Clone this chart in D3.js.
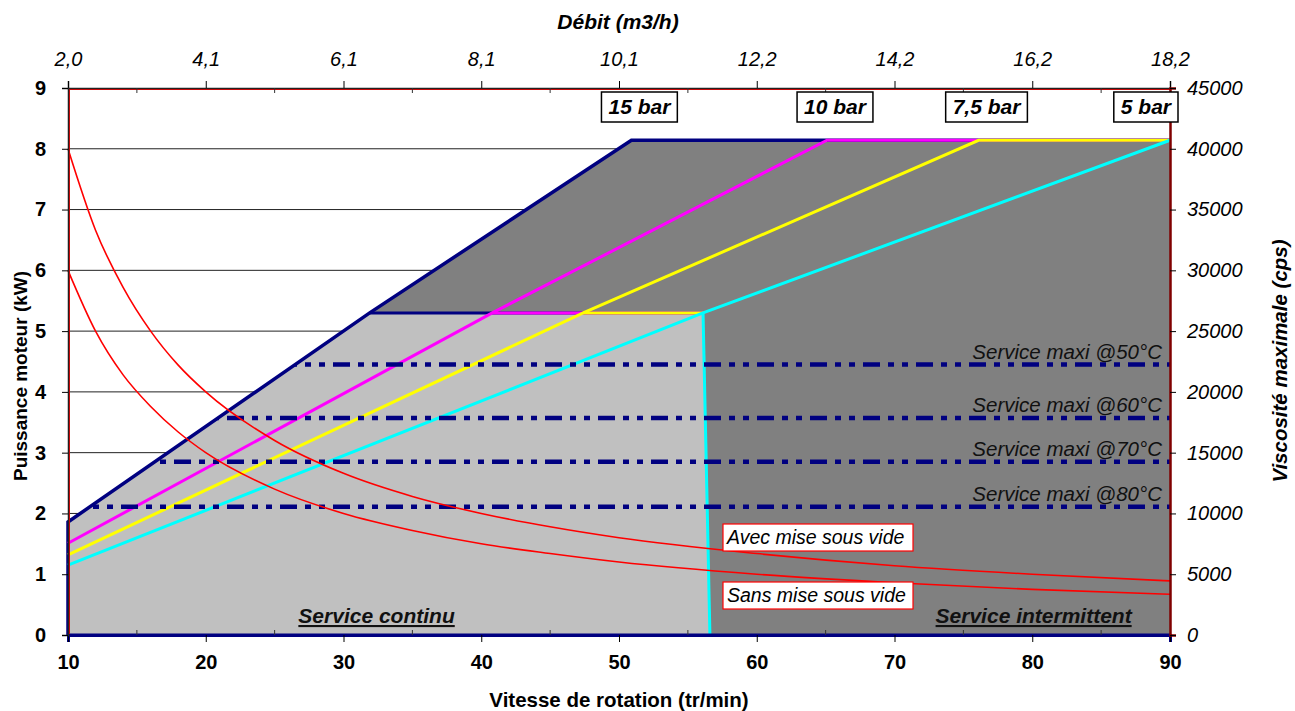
<!DOCTYPE html>
<html>
<head>
<meta charset="utf-8">
<script src="https://cdn.jsdelivr.net/npm/d3@7"></script>
<style>
  body { margin: 0; background: #fff; }
  svg { display: block; font-family: Arial, "Liberation Sans", sans-serif; }
</style>
</head>
<body>
<div id="chart"></div>
<script>
// speed (tr/min) ticks and matching flow (m3/h) labels
const speedTicks = [10, 20, 30, 40, 50, 60, 70, 80, 90];
const debitLabels = ["2,0", "4,1", "6,1", "8,1", "10,1", "12,2", "14,2", "16,2", "18,2"];
const powerTicks = [0, 1, 2, 3, 4, 5, 6, 7, 8, 9];
const viscTicks = [0, 5000, 10000, 15000, 20000, 25000, 30000, 35000, 40000, 45000];

// power curves per pressure, [speed, kW]
const pressureNames = ["15 bar", "10 bar", "7,5 bar", "5 bar"];
const pressureColors = ["#000080", "#ff00ff", "#ffff00", "#00ffff"];
const power15 = [[10, 0], [10, 1.86], [31.9, 5.30], [50.9, 8.14], [90, 8.14]];
const power10 = [[10, 1.51], [40.8, 5.30], [65.1, 8.14], [90, 8.14]];
const power75 = [[10, 1.32], [47.4, 5.30], [76.1, 8.14], [90, 8.14]];
const power5 = [[10, 1.15], [56.1, 5.30], [90, 8.14]];

// continuous duty limit
const continuousPower = 5.30;
const continuousLimit = [[56.1, 5.30], [56.6, 0]];

// max service viscosity per temperature (cps)
const serviceNames = ["Service maxi @50°C", "Service maxi @60°C", "Service maxi @70°C", "Service maxi @80°C"];
const serviceVisc = [22250, 17850, 14250, 10550];

// max viscosity curves, [speed, cps]
const viscAvec = [[10, 40000], [12, 33300], [14, 28600], [16, 25000], [18, 22200], [20, 20000], [25, 16000],
  [30, 13300], [35, 11400], [40, 10000], [45, 8900], [50, 8000], [60, 6700], [70, 5700], [80, 5000], [90, 4450]];
const viscSans = [[10, 30000], [12, 25000], [14, 21400], [16, 18800], [18, 16700], [20, 15000], [25, 12000],
  [30, 10000], [35, 8600], [40, 7500], [45, 6700], [50, 6000], [60, 5000], [70, 4300], [80, 3750], [90, 3350]];

const width = 1295, height = 711;
const margin = {top: 88, right: 125, bottom: 76, left: 68};

const svg = d3.select("#chart").append("svg")
  .attr("width", width)
  .attr("height", height);

const x = d3.scaleLinear().domain([10, 90]).range([margin.left, width - margin.right]);
const y = d3.scaleLinear().domain([0, 9]).range([height - margin.bottom, margin.top]);
const yR = d3.scaleLinear().domain([0, 45000]).range([height - margin.bottom, margin.top]);

const line = d3.line().x(d => x(d[0])).y(d => y(d[1]));

// gridlines
svg.append("g")
  .selectAll("line")
  .data(powerTicks.slice(1, -1))
  .enter()
  .append("line")
  .attr("x1", x(10)).attr("x2", x(90))
  .attr("y1", d => y(d)).attr("y2", d => y(d))
  .attr("stroke", "#222")
  .attr("stroke-width", 1);

// envelope (intermittent zone)
const envelope = power15.concat([[90, 0]]);
svg.append("path")
  .attr("d", line(envelope) + "Z")
  .attr("fill", "#808080");

// continuous zone
const continuous = [[10, 0], power15[1], power15[2], continuousLimit[0], continuousLimit[1]];
svg.append("path")
  .attr("d", line(continuous) + "Z")
  .attr("fill", "#c0c0c0");

svg.append("clipPath")
  .attr("id", "env-clip")
  .append("path")
  .attr("d", line(envelope) + "Z");

// pressure lines
const powerSeries = [power15, power10, power75, power5];
powerSeries.forEach((s, i) => {
  svg.append("path")
    .attr("d", line(s))
    .attr("fill", "none")
    .attr("stroke", pressureColors[i])
    .attr("stroke-width", i === 0 ? 3.5 : 3);
  // continuous limit part of each curve
  const crossing = s.find(p => p[1] === continuousPower);
  svg.append("path")
    .attr("d", line([crossing, continuousLimit[0]]))
    .attr("fill", "none")
    .attr("stroke", pressureColors[i])
    .attr("stroke-width", 3);
});

svg.append("path")
  .attr("d", line(continuousLimit))
  .attr("fill", "none")
  .attr("stroke", "#00ffff")
  .attr("stroke-width", 3);

// bottom edge
svg.append("line")
  .attr("x1", x(10)).attr("x2", x(90))
  .attr("y1", y(0)).attr("y2", y(0))
  .attr("stroke", "#000080")
  .attr("stroke-width", 3);

// service lines
const serviceG = svg.append("g").attr("clip-path", "url(#env-clip)");
serviceG.selectAll("line")
  .data(serviceVisc)
  .enter()
  .append("line")
  .attr("x1", x(10)).attr("x2", x(90))
  .attr("y1", d => yR(d)).attr("y2", d => yR(d))
  .attr("stroke", "#000080")
  .attr("stroke-width", 4.5)
  .attr("stroke-dasharray", "17,8,6,8,6,8");

svg.append("g")
  .selectAll("text")
  .data(serviceNames)
  .enter()
  .append("text")
  .attr("x", x(90) - 8)
  .attr("y", (d, i) => yR(serviceVisc[i]) - 6)
  .attr("text-anchor", "end")
  .attr("font-size", 20.5)
  .attr("font-style", "italic")
  .attr("fill", "#111")
  .text(d => d);

// viscosity curves
const viscLine = d3.line().x(d => x(d[0])).y(d => yR(d[1])).curve(d3.curveMonotoneX);
[viscAvec, viscSans].forEach(s => {
  svg.append("path")
    .attr("d", viscLine(s))
    .attr("fill", "none")
    .attr("stroke", "#ff0000")
    .attr("stroke-width", 1.6);
});

// plot border
svg.append("line")
  .attr("x1", x(10)).attr("x2", x(90))
  .attr("y1", y(9) + 1.5).attr("y2", y(9) + 1.5)
  .attr("stroke", "#ff0000").attr("stroke-width", 1);
svg.append("line")
  .attr("x1", x(10) + 1.5).attr("x2", x(10) + 1.5)
  .attr("y1", y(9)).attr("y2", y(0))
  .attr("stroke", "#ff0000").attr("stroke-width", 1);

// axes
const tickFont = g => g.selectAll("text").attr("font-size", 20).attr("fill", "#000");

const xAxis = svg.append("g")
  .attr("transform", `translate(0,${y(0)})`)
  .call(d3.axisBottom(x).tickValues(speedTicks).tickSize(7).tickPadding(13).tickFormat(d3.format("d")));
xAxis.call(tickFont).selectAll("text").attr("font-weight", "bold");

const xTop = svg.append("g")
  .attr("transform", `translate(0,${y(9)})`)
  .call(d3.axisTop(x).tickValues(speedTicks).tickSize(7).tickPadding(15).tickFormat((d, i) => debitLabels[i]));
xTop.call(tickFont).selectAll("text").attr("font-style", "italic");

const yAxis = svg.append("g")
  .attr("transform", `translate(${x(10)},0)`)
  .call(d3.axisLeft(y).tickValues(powerTicks).tickSize(6).tickPadding(16));
yAxis.call(tickFont).selectAll("text").attr("font-weight", "bold");

const yAxisR = svg.append("g")
  .attr("transform", `translate(${x(90)},0)`)
  .call(d3.axisRight(yR).tickValues(viscTicks).tickSize(6).tickPadding(11).tickFormat(d3.format("d")));
yAxisR.call(tickFont).selectAll("text").attr("font-style", "italic");
yAxisR.select(".domain").attr("stroke", "#800000").attr("stroke-width", 2.5);

// minor ticks (inside)
const minor = [15, 25, 35, 45, 55, 65, 75, 85];
svg.append("g").selectAll("line").data(minor).enter().append("line")
  .attr("x1", d => x(d)).attr("x2", d => x(d))
  .attr("y1", y(0)).attr("y2", y(0) - 5).attr("stroke", "#333");
svg.append("g").selectAll("line").data(minor).enter().append("line")
  .attr("x1", d => x(d)).attr("x2", d => x(d))
  .attr("y1", y(9)).attr("y2", y(9) + 5).attr("stroke", "#333");

[xAxis, xTop, yAxis].forEach(g => g.select(".domain").attr("stroke", "#222").attr("stroke-width", 1.5));
xAxis.select(".domain").attr("stroke", "#000080").attr("stroke-width", 3);

// pressure boxes
pressureNames.forEach((name, i) => {
  const s = powerSeries[i];
  const corner = s.find(p => p[1] === 8.14);
  const g = svg.append("g");
  const t = g.append("text")
    .attr("font-size", 21)
    .attr("font-weight", "bold")
    .attr("font-style", "italic")
    .attr("text-anchor", "middle")
    .text(name);
  const w = t.node().getComputedTextLength() + 14;
  let cx = x(corner[0]) + 8;
  if (cx + w / 2 > x(90) + 8) cx = x(90) + 8 - w / 2;
  t.attr("x", cx).attr("y", 114);
  g.insert("rect", "text")
    .attr("x", cx - w / 2).attr("y", 92)
    .attr("width", w).attr("height", 30)
    .attr("fill", "#fff")
    .attr("stroke", "#000")
    .attr("stroke-width", 1.5);
});

// viscosity labels
const viscLabels = ["Avec mise sous vide", "Sans mise sous vide"];
[524, 582].forEach((top, i) => {
  const g = svg.append("g");
  g.append("rect")
    .attr("x", 723).attr("y", top)
    .attr("width", 190).attr("height", 27)
    .attr("fill", "#fff")
    .attr("stroke", "#ff0000")
    .attr("stroke-width", 1.2);
  g.append("text")
    .attr("x", 727).attr("y", top + 20)
    .attr("font-size", 19.5)
    .attr("font-style", "italic")
    .text(viscLabels[i]);
});

// zone labels
[["Service continu", 32.4], ["Service intermittent", 80.1]].forEach(([label, sp]) => {
  svg.append("text")
    .attr("x", x(sp)).attr("y", 623)
    .attr("text-anchor", "middle")
    .attr("font-size", 21)
    .attr("font-weight", "bold")
    .attr("font-style", "italic")
    .attr("text-decoration", "underline")
    .attr("fill", "#111")
    .text(label);
});

// axis titles
svg.append("text")
  .attr("x", 618).attr("y", 29)
  .attr("text-anchor", "middle")
  .attr("font-size", 21).attr("font-weight", "bold").attr("font-style", "italic")
  .text("Débit (m3/h)");

svg.append("text")
  .attr("x", 619).attr("y", 707)
  .attr("text-anchor", "middle")
  .attr("font-size", 20.5).attr("font-weight", "bold")
  .text("Vitesse de rotation (tr/min)");

svg.append("text")
  .attr("transform", "translate(27,376) rotate(-90)")
  .attr("text-anchor", "middle")
  .attr("font-size", 19).attr("font-weight", "bold")
  .text("Puissance moteur (kW)");

svg.append("text")
  .attr("transform", "translate(1287,361) rotate(-90)")
  .attr("text-anchor", "middle")
  .attr("font-size", 20.5).attr("font-weight", "bold").attr("font-style", "italic")
  .text("Viscosité maximale (cps)");
</script>
</body>
</html>
